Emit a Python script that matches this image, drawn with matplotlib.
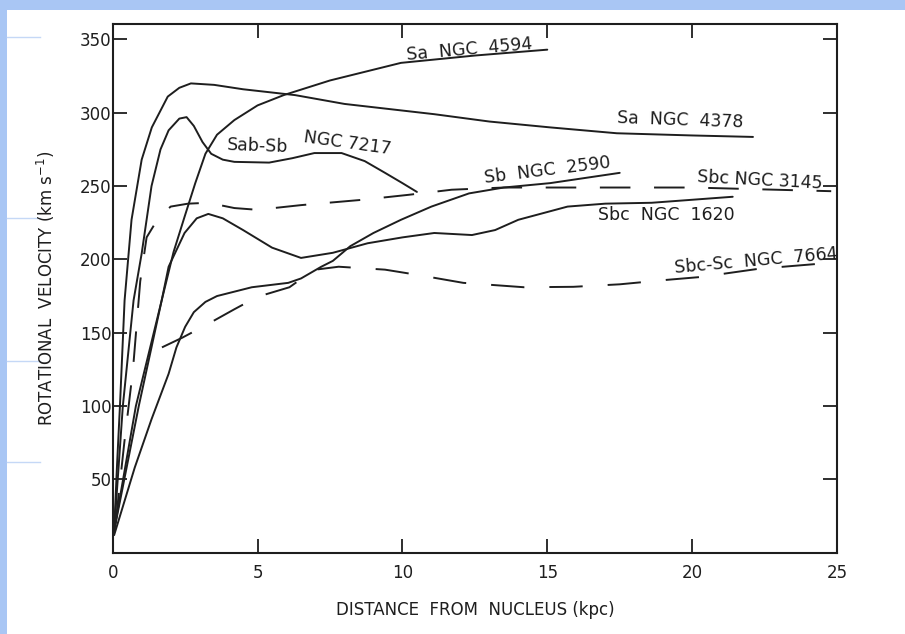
import matplotlib
matplotlib.use("Agg")
import matplotlib.pyplot as plt
from matplotlib.patches import Rectangle
from matplotlib.lines import Line2D

plt.rcParams['font.family'] = ['DejaVu Sans']
plt.rcParams['lines.scale_dashes'] = False

# rotation curves (kpc, km/s)
ngc4378_x = [0.05, 0.15, 0.25, 0.41, 0.65, 1.0, 1.35, 1.9, 2.3, 2.7, 3.5, 4.5, 6.3, 8.0, 11.1, 13.0, 15.1, 17.4, 20.0, 22.1]
ngc4378_v = [15, 60, 100, 172, 227, 268, 290, 311, 317, 320, 319, 316, 312, 306, 299, 294, 290, 286, 284.5, 283.5]

ngc7217_x = [0.05, 0.35, 0.72, 1.0, 1.34, 1.65, 1.93, 2.3, 2.55, 2.8, 3.1, 3.4, 3.8, 4.2, 5.4, 6.2, 6.96, 7.9, 8.7, 9.4, 10.0, 10.5]
ngc7217_v = [15, 100, 172, 204, 250, 275, 288, 296, 297, 291, 280, 272, 268, 266.5, 266, 269, 272.5, 272.5, 267, 259, 252, 246]

ngc4594_x = [0.05, 0.9, 1.69, 2.1, 2.48, 2.85, 3.2, 3.6, 4.2, 5.0, 5.9, 7.5, 9.95, 12.5, 15.0]
ngc4594_v = [15, 100, 172, 205, 229, 252, 272, 285, 295, 305, 312, 322, 334, 339, 343]

ngc1620_x = [0.05, 0.8, 1.69, 1.93, 2.48, 2.9, 3.3, 3.8, 4.5, 5.5, 6.5, 7.6, 8.8, 10.0, 11.1, 12.4, 13.2, 14.0, 15.7, 17.0, 18.6, 21.4]
ngc1620_v = [15, 100, 172, 195, 218, 228, 231, 228, 220, 208, 201, 204.5, 211, 215, 218, 216.6, 220, 227, 236, 238, 238.6, 242.7]

ngc2590_x = [0.05, 0.76, 1.34, 1.93, 2.2, 2.5, 2.8, 3.2, 3.6, 4.8, 6.06, 6.5, 7.2, 7.6, 8.2, 9.0, 9.95, 11.0, 12.3, 13.5, 15.1, 17.5]
ngc2590_v = [12, 58, 91, 122, 140, 154, 164, 171, 175, 181, 184, 187, 195, 199, 209, 218, 227, 236, 245, 249, 252, 259]

ngc3145_x = [0.1, 0.4, 0.7, 0.95, 1.17, 1.57, 2.0, 2.6, 3.3, 4.2, 5.0, 6.5, 8.6, 10.2, 11.7, 13.5, 15.0, 20.0, 24.8]
ngc3145_v = [20, 75, 125, 185, 215, 228, 236, 238, 238.6, 235, 233.8, 237, 240.6, 244, 247.5, 249, 249, 249, 246.5]

ngc7664_x = [1.7, 2.4, 3.2, 4.2, 5.0, 6.1, 6.6, 7.0, 7.8, 9.4, 10.5, 12.1, 14.2, 15.9, 17.5, 19.1, 20.3, 22.3, 24.8]
ngc7664_v = [140, 146.6, 155, 166, 174.5, 181, 188, 193, 195, 193, 189.5, 184, 181, 181.3, 183, 186, 188, 193.6, 197.7]

x_ticks = [0, 5, 10, 15, 20, 25]
x_labels = ['0', '5', '10', '15', '20', '25']
y_ticks = [50, 100, 150, 200, 250, 300, 350]

ink = '#1e1e1e'

fig = plt.figure(figsize=(9.05, 6.34), dpi=100, facecolor='#a9c6f4')
# white slide area inside the blue frame
fig.patches.append(Rectangle((7 / 905, 0), 1, 624 / 634, transform=fig.transFigure,
                             facecolor='white', edgecolor='none', zorder=-10))
for yy in [37, 218, 361, 462]:
    fig.lines.append(Line2D([7 / 905, 40 / 905], [1 - yy / 634] * 2, transform=fig.transFigure,
                            color='#c5d8f6', lw=1, zorder=-5))

ax = fig.add_axes([112.7 / 905, 81.3 / 634, (837 - 112.7) / 905, (552.7 - 24) / 634])
ax.set_facecolor('none')

solid = dict(color=ink, lw=1.4, solid_capstyle='round')
ax.plot(ngc4378_x, ngc4378_v, **solid)
ax.plot(ngc7217_x, ngc7217_v, **solid)
ax.plot(ngc4594_x, ngc4594_v, **solid)
ax.plot(ngc1620_x, ngc1620_v, **solid)
ax.plot(ngc2590_x, ngc2590_v, **solid)
ax.plot(ngc3145_x, ngc3145_v, color=ink, lw=1.4, dashes=(22, 17))
ax.plot(ngc7664_x, ngc7664_v, color=ink, lw=1.4, dashes=(24, 18))

ax.set_xlim(0, 25)
ax.set_ylim(0, 360.5)
ax.set_xticks(x_ticks)
ax.set_xticklabels(x_labels)
ax.set_yticks(y_ticks)
ax.tick_params(direction='in', length=10, width=1.3, color=ink, labelsize=12,
               labelcolor=ink, top=True, right=True, pad=8)
ax.tick_params(axis='y', pad=1)
for sp in ax.spines.values():
    sp.set_color(ink)
    sp.set_linewidth(1.5)

ax.set_xlabel('DISTANCE  FROM  NUCLEUS (kpc)', fontsize=12, color=ink, labelpad=14)
ax.set_ylabel('ROTATIONAL  VELOCITY (km s$^{-1}$)', fontsize=12, color=ink, labelpad=16)

lab = dict(fontsize=12.5, color=ink, ha='center', va='center')
ax.text(12.3, 343, 'Sa  NGC  4594', rotation=5, **lab)
ax.text(19.6, 295, 'Sa  NGC  4378', rotation=-2, **lab)
ax.text(5.0, 277, 'Sab-Sb', rotation=-2, **lab)
ax.text(8.1, 279, 'NGC 7217', rotation=-8, **lab)
ax.text(15.0, 261, 'Sb  NGC  2590', rotation=7, **lab)
ax.text(22.35, 254, 'Sbc NGC 3145', rotation=-3, **lab)
ax.text(19.1, 230, 'Sbc  NGC  1620', **lab)
ax.text(22.2, 199, 'Sbc-Sc  NGC  7664', rotation=5, **lab)

fig.savefig('out.png', dpi=100, facecolor=fig.get_facecolor())
